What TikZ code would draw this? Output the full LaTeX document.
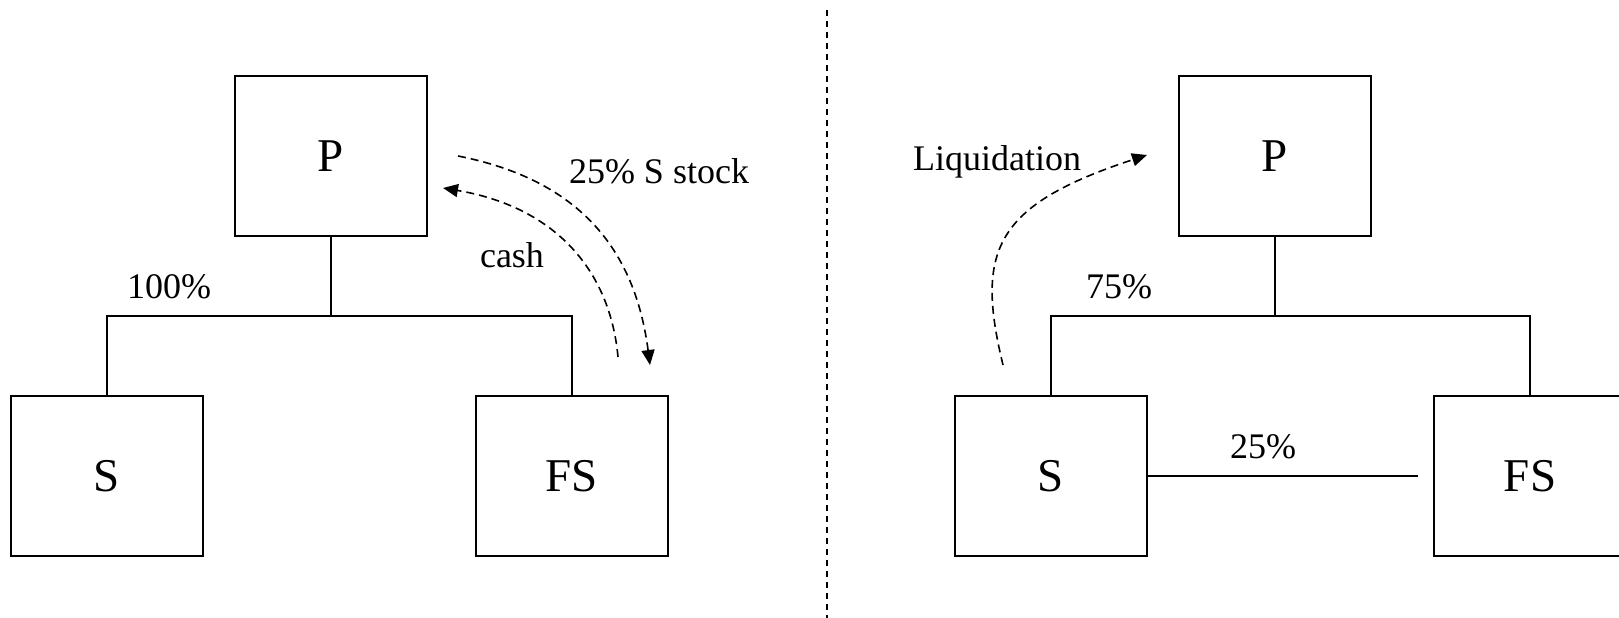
\documentclass[tikz,border=0pt]{standalone}
\usepackage{fontspec}
\setmainfont{Liberation Serif}
\usetikzlibrary{arrows.meta}
\tikzset{
  entity/.style={draw=black, line width=2.2pt, minimum width=192pt, minimum height=160pt, inner sep=0pt, font=\fontsize{47}{56}\selectfont},
  tree/.style={draw=black, line width=2.2pt},
  lbl/.style={anchor=base, inner sep=0pt, font=\fontsize{36}{43}\selectfont},
  flow/.style={draw=black, line width=1.6pt, dash pattern=on 8pt off 5pt, -{Triangle[length=15pt,width=13pt]}},
  divider/.style={draw=black, line width=2.2pt, dash pattern=on 6pt off 5pt}
}
\begin{document}
\begin{tikzpicture}[x=1pt,y=-1pt]
\useasboundingbox (0,0) rectangle (1619,618);
\clip (0,0) rectangle (1619,618);
\fill[white] (0,0) rectangle (1619,618);

% ---------- left panel ----------
\node[entity] (P1) at (331,156) {P};
\node[entity] (S1) at (107,476) {S};
\node[entity] (FS1) at (572,476) {FS};
\coordinate (J1) at (331,316);
\draw[tree] (P1.south) -- (J1);
\draw[tree] (S1.north) |- (J1) -| (FS1.north);
\node[lbl] (L100) at (169,298) {100\%};

\coordinate (stockA) at (458,156);
\coordinate (stockB) at (650,365);
\draw[flow] (stockA) .. controls (580,180) and (635,250) .. (stockB);
\node[lbl] (Lstock) at (659,183) {25\% S stock};

\coordinate (cashA) at (618,357);
\coordinate (cashB) at (443,188);
\draw[flow] (cashA) .. controls (610,270) and (555,207) .. (cashB);
\node[lbl] (Lcash) at (512,267) {cash};

% ---------- divider ----------
\coordinate (dTop) at (827,10);
\coordinate (dBot) at (827,618);
\draw[divider] (dTop) -- (dBot);

% ---------- right panel ----------
\node[entity] (P2) at (1275,156) {P};
\node[entity] (S2) at (1051,476) {S};
\node[entity] (FS2) at (1530,476) {FS};
\coordinate (J2) at (1275,316);
\draw[tree] (P2.south) -- (J2);
\draw[tree] (S2.north) |- (J2) -| (FS2.north);
\node[lbl] (L75) at (1119,298) {75\%};
\coordinate (cross) at (1418,476);
\draw[tree] (S2.east) -- (cross);
\node[lbl] (L25) at (1263,458) {25\%};

\coordinate (liqA) at (1003,365);
\coordinate (liqB) at (1147,155);
\draw[flow] (liqA) .. controls (975,250) and (995,205) .. (liqB);
\node[lbl] (Lliq) at (997,170) {Liquidation};
\end{tikzpicture}
\end{document}
